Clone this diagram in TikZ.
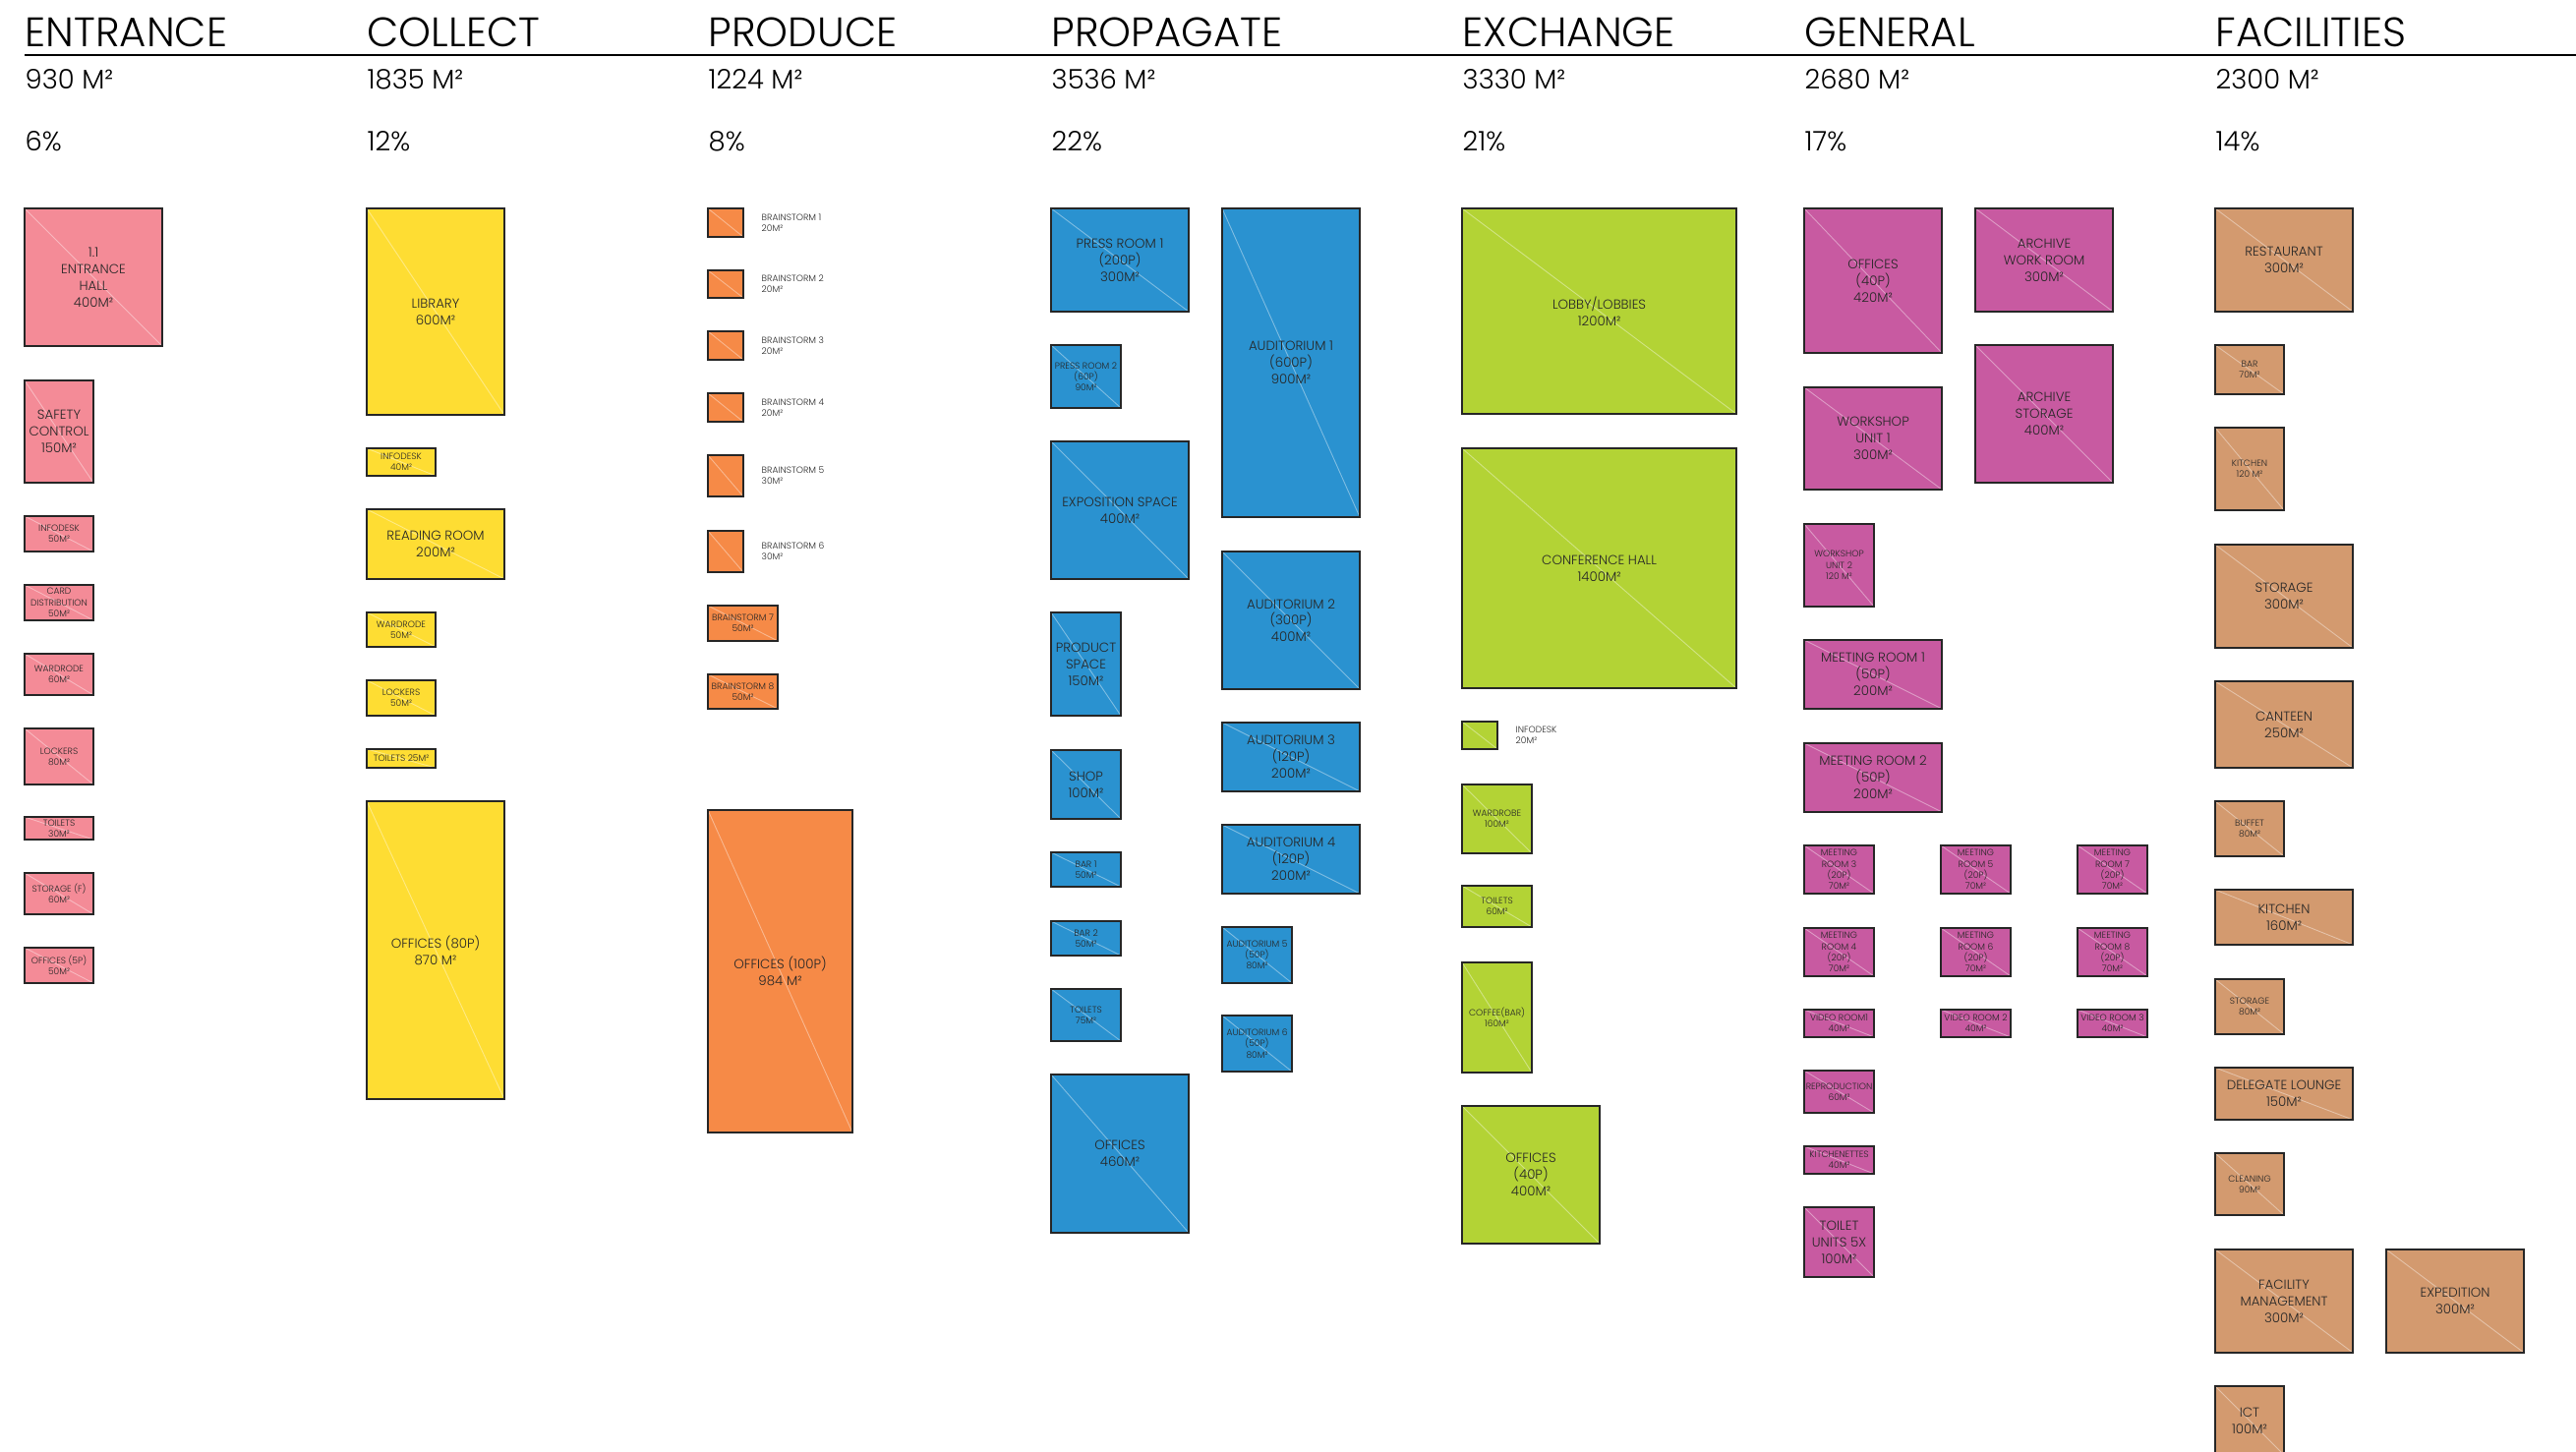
\documentclass[tikz,border=0pt]{standalone}
\usepackage{fontspec}
\setmainfont{Poppins Light}
\usetikzlibrary{positioning}

\definecolor{entpink}{HTML}{F48B97}
\definecolor{colyellow}{HTML}{FEDD33}
\definecolor{proorange}{HTML}{F68A47}
\definecolor{ppblue}{HTML}{2A92D0}
\definecolor{exgreen}{HTML}{B3D335}
\definecolor{genpurple}{HTML}{C85AA1}
\definecolor{factan}{HTML}{D39A6F}

\begin{document}
\begin{tikzpicture}[x=0.01cm, y=-0.01cm,
  room/.style={draw=black!85, line width=.6pt, inner sep=0pt, outer sep=0pt,
    anchor=north west, align=center, text=black!85,
    font=\fontsize{3.8}{4.8}\selectfont,
    path picture={\draw[white, opacity=.4, line width=.25pt]
      (path picture bounding box.north west) -- (path picture bounding box.south east);}},
  sml/.style={font=\fontsize{2.6}{3.2}\selectfont},
  wh/.style 2 args={minimum width=#1cm, minimum height=#2cm},
  ent/.style={room, fill=entpink},
  col/.style={room, fill=colyellow},
  pro/.style={room, fill=proorange},
  prp/.style={room, fill=ppblue},
  exc/.style={room, fill=exgreen},
  gen/.style={room, fill=genpurple},
  fac/.style={room, fill=factan},
  title/.style={anchor=base west, inner sep=0pt, font=\fontsize{11.9}{14}\selectfont},
  stat/.style={anchor=base west, inner sep=0pt, font=\fontsize{7.8}{9}\selectfont},
  tag/.style={inner sep=0pt, align=left, text=black!85, font=\fontsize{2.6}{3.2}\selectfont}]

\useasboundingbox (0,0) rectangle (2620,1477);

% headings
\node[title] at (25, 48) (h1) {ENTRANCE};
\node[title] at (373, 48) (h2) {COLLECT};
\node[title] at (720, 48) (h3) {PRODUCE};
\node[title] at (1069, 48) (h4) {PROPAGATE};
\node[title] at (1487, 48) (h5) {EXCHANGE};
\node[title] at (1835, 48) (h6) {GENERAL};
\node[title] at (2253, 48) (h7) {FACILITIES};
\draw[line width=.7pt] (25, 56) -- (2620, 56);

\node[stat] at (25, 91) (a1) {930 M²};
\node[stat] at (373, 91) (a2) {1835 M²};
\node[stat] at (720, 91) (a3) {1224 M²};
\node[stat] at (1069, 91) (a4) {3536 M²};
\node[stat] at (1487, 91) (a5) {3330 M²};
\node[stat] at (1835, 91) (a6) {2680 M²};
\node[stat] at (2253, 91) (a7) {2300 M²};

\node[stat] at (25, 154) (q1) {6\%};
\node[stat] at (373, 154) (q2) {12\%};
\node[stat] at (720, 154) (q3) {8\%};
\node[stat] at (1069, 154) (q4) {22\%};
\node[stat] at (1487, 154) (q5) {21\%};
\node[stat] at (1835, 154) (q6) {17\%};
\node[stat] at (2253, 154) (q7) {14\%};

% entrance
\node[ent, wh={1.4}{1.4}] at (25, 212) (en1) {1.1\\ENTRANCE\\HALL\\400M²};
\node[ent, wh={.7}{1.04}] at (25, 387) (en2) {SAFETY\\CONTROL\\150M²};
\node[ent, sml, wh={.7}{.36}] at (25, 525) (en3) {INFODESK\\50M²};
\node[ent, sml, wh={.7}{.36}] at (25, 595) (en4) {CARD\\DISTRIBUTION\\50M²};
\node[ent, sml, wh={.7}{.42}] at (25, 665) (en5) {WARDRODE\\60M²};
\node[ent, sml, wh={.7}{.57}] at (25, 741) (en6) {LOCKERS\\80M²};
\node[ent, sml, wh={.7}{.23}] at (25, 831) (en7) {TOILETS\\30M²};
\node[ent, sml, wh={.7}{.42}] at (25, 888) (en8) {STORAGE (F)\\60M²};
\node[ent, sml, wh={.7}{.36}] at (25, 964) (en9) {OFFICES (5P)\\50M²};

% collect
\node[col, wh={1.4}{2.1}] at (373, 212) (co1) {LIBRARY\\600M²};
\node[col, sml, wh={.7}{.28}] at (373, 456) (co2) {INFODESK\\40M²};
\node[col, wh={1.4}{.71}] at (373, 518) (co3) {READING ROOM\\200M²};
\node[col, sml, wh={.7}{.35}] at (373, 623) (co4) {WARDRODE\\50M²};
\node[col, sml, wh={.7}{.36}] at (373, 692) (co5) {LOCKERS\\50M²};
\node[col, sml, wh={.7}{.19}] at (373, 762) (co6) {TOILETS 25M²};
\node[col, wh={1.4}{3.03}] at (373, 815) (co7) {OFFICES (80P)\\870 M²};

% produce
\node[pro, wh={.36}{.29}] at (720, 212) (pr1) {};
\node[pro, wh={.36}{.28}] at (720, 275) (pr2) {};
\node[pro, wh={.36}{.29}] at (720, 337) (pr3) {};
\node[pro, wh={.36}{.29}] at (720, 400) (pr4) {};
\node[pro, wh={.36}{.42}] at (720, 463) (pr5) {};
\node[pro, wh={.36}{.42}] at (720, 540) (pr6) {};
\node[tag, right=.18cm of pr1] (pt1) {BRAINSTORM 1\\20M²};
\node[tag, right=.18cm of pr2] (pt2) {BRAINSTORM 2\\20M²};
\node[tag, right=.18cm of pr3] (pt3) {BRAINSTORM 3\\20M²};
\node[tag, right=.18cm of pr4] (pt4) {BRAINSTORM 4\\20M²};
\node[tag, right=.18cm of pr5] (pt5) {BRAINSTORM 5\\30M²};
\node[tag, right=.18cm of pr6] (pt6) {BRAINSTORM 6\\30M²};
\node[pro, sml, wh={.71}{.36}] at (720, 616) (pr7) {BRAINSTORM 7\\50M²};
\node[pro, sml, wh={.71}{.35}] at (720, 686) (pr8) {BRAINSTORM 8\\50M²};
\node[pro, wh={1.47}{3.28}] at (720, 824) (pr9) {OFFICES (100P)\\984 M²};

% propagate
\node[prp, wh={1.4}{1.05}] at (1069, 212) (pp1) {PRESS ROOM 1\\(200P)\\300M²};
\node[prp, sml, wh={.71}{.64}] at (1069, 351) (pp2) {PRESS ROOM 2\\(60P)\\90M²};
\node[prp, wh={1.4}{1.4}] at (1069, 449) (pp3) {EXPOSITION SPACE\\400M²};
\node[prp, wh={.71}{1.05}] at (1069, 623) (pp4) {PRODUCT\\SPACE\\150M²};
\node[prp, wh={.71}{.7}] at (1069, 763) (pp5) {SHOP\\100M²};
\node[prp, sml, wh={.71}{.35}] at (1069, 867) (pp6) {BAR 1\\50M²};
\node[prp, sml, wh={.71}{.35}] at (1069, 937) (pp7) {BAR 2\\50M²};
\node[prp, sml, wh={.71}{.53}] at (1069, 1006) (pp8) {TOILETS\\75M²};
\node[prp, wh={1.4}{1.61}] at (1069, 1093) (pp9) {OFFICES\\460M²};
\node[prp, wh={1.4}{3.14}] at (1243, 212) (pp10) {AUDITORIUM 1\\(600P)\\900M²};
\node[prp, wh={1.4}{1.4}] at (1243, 561) (pp11) {AUDITORIUM 2\\(300P)\\400M²};
\node[prp, wh={1.4}{.7}] at (1243, 735) (pp12) {AUDITORIUM 3\\(120P)\\200M²};
\node[prp, wh={1.4}{.7}] at (1243, 839) (pp13) {AUDITORIUM 4\\(120P)\\200M²};
\node[prp, sml, wh={.71}{.57}] at (1243, 943) (pp14) {AUDITORIUM 5\\(50P)\\80M²};
\node[prp, sml, wh={.71}{.57}] at (1243, 1033) (pp15) {AUDITORIUM 6\\(50P)\\80M²};

% exchange
\node[exc, wh={2.79}{2.09}] at (1487, 212) (ex1) {LOBBY/LOBBIES\\1200M²};
\node[exc, wh={2.79}{2.44}] at (1487, 456) (ex2) {CONFERENCE HALL\\1400M²};
\node[exc, wh={.36}{.28}] at (1487, 734) (ex3) {};
\node[tag, right=.18cm of ex3] (xt3) {INFODESK\\20M²};
\node[exc, sml, wh={.71}{.7}] at (1487, 798) (ex4) {WARDROBE\\100M²};
\node[exc, sml, wh={.71}{.42}] at (1487, 901) (ex5) {TOILETS\\60M²};
\node[exc, sml, wh={.71}{1.12}] at (1487, 979) (ex6) {COFFEE(BAR)\\160M²};
\node[exc, wh={1.4}{1.4}] at (1487, 1125) (ex7) {OFFICES\\(40P)\\400M²};

% general
\node[gen, wh={1.4}{1.47}] at (1835, 212) (ge1) {OFFICES\\(40P)\\420M²};
\node[gen, wh={1.4}{1.05}] at (2009, 212) (ge2) {ARCHIVE\\WORK ROOM\\300M²};
\node[gen, wh={1.4}{1.4}] at (2009, 351) (ge3) {ARCHIVE\\STORAGE\\400M²};
\node[gen, wh={1.4}{1.04}] at (1835, 394) (ge4) {WORKSHOP\\UNIT 1\\300M²};
\node[gen, sml, wh={.71}{.84}] at (1835, 533) (ge5) {WORKSHOP\\UNIT 2\\120 M²};
\node[gen, wh={1.4}{.7}] at (1835, 651) (ge6) {MEETING ROOM 1\\(50P)\\200M²};
\node[gen, wh={1.4}{.7}] at (1835, 756) (ge7) {MEETING ROOM 2\\(50P)\\200M²};
\node[gen, sml, wh={.71}{.49}] at (1835, 860) (ge8) {MEETING\\ROOM 3\\(20P)\\70M²};
\node[gen, sml, wh={.71}{.49}] at (1835, 944) (ge9) {MEETING\\ROOM 4\\(20P)\\70M²};
\node[gen, sml, wh={.71}{.49}] at (1974, 860) (ge10) {MEETING\\ROOM 5\\(20P)\\70M²};
\node[gen, sml, wh={.71}{.49}] at (1974, 944) (ge11) {MEETING\\ROOM 6\\(20P)\\70M²};
\node[gen, sml, wh={.71}{.49}] at (2113, 860) (ge12) {MEETING\\ROOM 7\\(20P)\\70M²};
\node[gen, sml, wh={.71}{.49}] at (2113, 944) (ge13) {MEETING\\ROOM 8\\(20P)\\70M²};
\node[gen, sml, wh={.71}{.28}] at (1835, 1027) (ge14) {VIDEO ROOM1\\40M²};
\node[gen, sml, wh={.71}{.28}] at (1974, 1027) (ge15) {VIDEO ROOM 2\\40M²};
\node[gen, sml, wh={.71}{.28}] at (2113, 1027) (ge16) {VIDEO ROOM 3\\40M²};
\node[gen, sml, wh={.71}{.43}] at (1835, 1089) (ge17) {REPRODUCTION\\60M²};
\node[gen, sml, wh={.71}{.28}] at (1835, 1166) (ge18) {KITCHENETTES\\40M²};
\node[gen, wh={.71}{.71}] at (1835, 1228) (ge19) {TOILET\\UNITS 5X\\100M²};

% facilities
\node[fac, wh={1.4}{1.05}] at (2253, 212) (fa1) {RESTAURANT\\300M²};
\node[fac, sml, wh={.7}{.5}] at (2253, 351) (fa2) {BAR\\70M²};
\node[fac, sml, wh={.7}{.84}] at (2253, 435) (fa3) {KITCHEN\\120 M²};
\node[fac, wh={1.4}{1.05}] at (2253, 554) (fa4) {STORAGE\\300M²};
\node[fac, wh={1.4}{.88}] at (2253, 693) (fa5) {CANTEEN\\250M²};
\node[fac, sml, wh={.7}{.56}] at (2253, 815) (fa6) {BUFFET\\80M²};
\node[fac, wh={1.4}{.56}] at (2253, 905) (fa7) {KITCHEN\\160M²};
\node[fac, sml, wh={.7}{.56}] at (2253, 996) (fa8) {STORAGE\\80M²};
\node[fac, wh={1.4}{.53}] at (2253, 1086) (fa9) {DELEGATE LOUNGE\\150M²};
\node[fac, sml, wh={.7}{.63}] at (2253, 1173) (fa10) {CLEANING\\90M²};
\node[fac, wh={1.4}{1.05}] at (2253, 1271) (fa11) {FACILITY\\MANAGEMENT\\300M²};
\node[fac, wh={1.4}{1.05}] at (2427, 1271) (fa12) {EXPEDITION\\300M²};
\node[fac, wh={.7}{.7}] at (2253, 1410) (fa13) {ICT\\100M²};

\end{tikzpicture}
\end{document}
